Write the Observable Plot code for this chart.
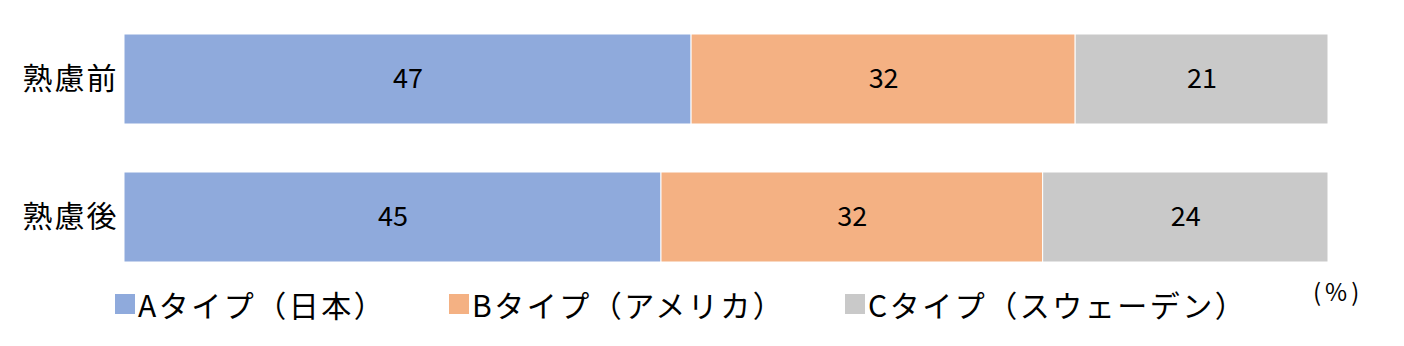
<!DOCTYPE html>
<html>
<head>
<meta charset="utf-8">
<script src="https://cdn.jsdelivr.net/npm/d3@7"></script>
<script src="https://cdn.jsdelivr.net/npm/@observablehq/plot@0.6"></script>
<style>
  body { margin: 0; background: #fff; font-family: "Noto Sans CJK JP", "Noto Sans", sans-serif; }
  #wrap { position: relative; width: 1404px; height: 346px; }
  .item { position: absolute; top: 282px; display: flex; align-items: center; font-size: 30px; color: #000; white-space: nowrap; letter-spacing: 2.5px; }
  .sw { width: 20px; height: 20px; margin-right: 3px; }
  #unit { position: absolute; left: 1313px; top: 273px; font-size: 24px; color: #000; letter-spacing: 4px; }
  svg g[aria-label="y-axis tick label"] text { letter-spacing: 2px; }
</style>
</head>
<body>
<div id="wrap"></div>
<script>
const categories = ["熟慮前", "熟慮後"];
const types = ["Aタイプ（日本）", "Bタイプ（アメリカ）", "Cタイプ（スウェーデン）"];
const colors = ["#8FAADC", "#F4B183", "#C9C9C9"];
const valuesA = [47.1, 44.6];
const valuesB = [31.9, 31.7];
const valuesC = [21.0, 23.7];
const unitLabel = "(%)";
const legendX = [115, 449, 845];

const series = [valuesA, valuesB, valuesC];
const data = [];
types.forEach((t, i) => categories.forEach((c, j) => data.push({cat: c, type: t, value: series[i][j]})));

const chart = Plot.plot({
  width: 1404,
  height: 280,
  marginLeft: 124,
  marginRight: 76,
  marginTop: 33,
  marginBottom: 18,
  style: {fontFamily: "'Noto Sans CJK JP', 'Noto Sans', sans-serif", background: "#fff", color: "#000"},
  x: {domain: [0, 100], axis: null},
  y: {domain: categories, padding: 0.35, paddingOuter: 0, label: null, tickSize: 0, tickPadding: 6},
  color: {domain: types, range: colors},
  marks: [
    Plot.barX(data, Plot.stackX({x: "value", y: "cat", fill: "type", order: types, stroke: "#fff", strokeWidth: 1})),
    Plot.text(data, Plot.stackX({x: "value", y: "cat", z: "type", order: types, text: d => String(Math.round(d.value)), fill: "#000", fontSize: 27})),
    Plot.axisY({tickSize: 0, tickPadding: 6, fontSize: 30, label: null})
  ]
});
const wrap = document.getElementById("wrap");
wrap.appendChild(chart);

types.forEach((t, i) => {
  const it = document.createElement("div");
  it.className = "item";
  it.style.left = legendX[i] + "px";
  const sw = document.createElement("span");
  sw.className = "sw";
  sw.style.background = colors[i];
  const tx = document.createElement("span");
  tx.textContent = t;
  it.appendChild(sw);
  it.appendChild(tx);
  wrap.appendChild(it);
});
const u = document.createElement("div");
u.id = "unit";
u.textContent = unitLabel;
wrap.appendChild(u);
</script>
</body>
</html>
